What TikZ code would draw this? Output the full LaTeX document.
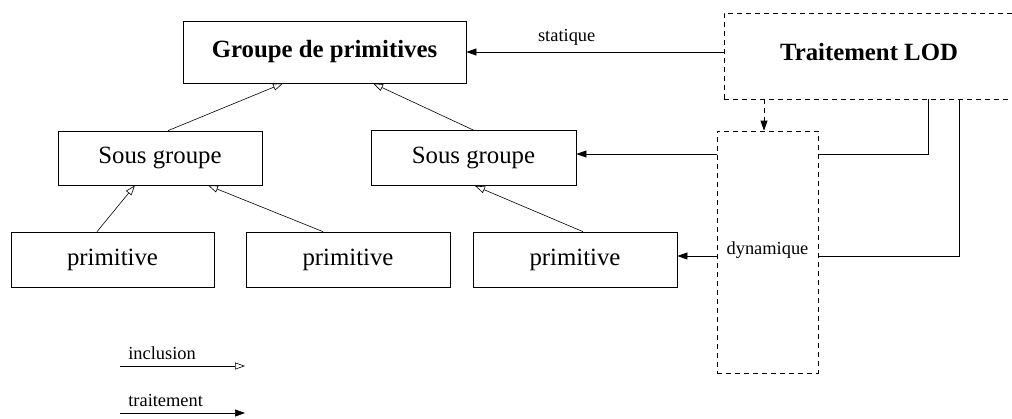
\documentclass[tikz,border=0pt]{standalone}
\usepackage{fontspec}
\setmainfont{Liberation Serif}
\usetikzlibrary{arrows.meta,calc}
\begin{document}
\begin{tikzpicture}[x=1pt,y=-1pt,line width=0.7pt,
  box/.style={draw,rectangle,inner sep=0pt,font=\fontsize{24.8}{26}\selectfont},
  dbox/.style={draw,rectangle,inner sep=0pt,dash pattern=on 5pt off 4pt},
  incl/.style={-{Triangle[open,length=10pt,width=7pt]},line width=0.6pt},
  treat/.style={-{Triangle[length=10pt,width=7pt]},line width=0.7pt},
  lbl/.style={font=\fontsize{18.4}{20}\selectfont,inner sep=0pt}]
\useasboundingbox (0,0) rectangle (1012,418);
\clip (0,0) rectangle (1012,418);
% nodes
\node[box,minimum width=283pt,minimum height=62pt,font=\fontsize{24.8}{26}\selectfont\bfseries] (g) at (324.5,52) {Groupe de primitives};
\node[dbox,minimum width=290pt,minimum height=86pt] (lod) at (869,56) {};
\node[font=\fontsize{24.8}{26}\selectfont\bfseries,inner sep=0pt] (lodt) at (869,52) {Traitement LOD};
\node[box,minimum width=204pt,minimum height=54pt] (sg1) at (160,158) {Sous groupe};
\node[box,minimum width=205pt,minimum height=55pt] (sg2) at (473.5,158) {Sous groupe};
\node[box,minimum width=203pt,minimum height=55pt] (p1) at (112.5,259.5) {primitive};
\node[box,minimum width=204pt,minimum height=55pt] (p2) at (348,259.5) {primitive};
\node[box,minimum width=204pt,minimum height=55pt] (p3) at (575,259.5) {primitive};
\node[dbox,minimum width=101pt,minimum height=242pt] (dyn) at (767.5,252) {};
\node[lbl] (dynt) at (767.5,250) {dynamique};
% inclusion arrows
\draw[incl] ([xshift=8pt]sg1.north) -- ([xshift=-41.5pt]g.south);
\draw[incl] (sg2.north) -- ([xshift=48.5pt]g.south);
\draw[incl] ([xshift=-15.5pt]p1.north) -- ([xshift=-25pt]sg1.south);
\draw[incl] ([xshift=-25pt]p2.north) -- ([xshift=48pt]sg1.south);
\draw[incl] ([xshift=8pt]p3.north) -- ([xshift=1.5pt]sg2.south);
% treatment arrows
\draw[treat] ([yshift=4pt]lod.west) -- node[lbl,above=6pt,pos=0.61] (st) {statique} (g.east);
\draw[treat,dash pattern=on 5pt off 4pt] ([xshift=-105pt]lod.south) -- ([xshift=-3.5pt]dyn.north);
\draw[treat] ([yshift=4pt]sg2.east -| dyn.west) -- ([yshift=4pt]sg2.east);
\draw[treat] ([yshift=3.5pt]p3.east -| dyn.west) -- ([yshift=3.5pt]p3.east);
\draw ([xshift=59pt]lod.south) |- ([yshift=4pt]sg2.east -| dyn.east);
\draw ([xshift=90pt]lod.south) |- ([yshift=3.5pt]p3.east -| dyn.east);
% legend
\coordinate (i1) at (120,366);
\coordinate (i2) at (245,366);
\coordinate (t1) at (120,413);
\coordinate (t2) at (245,413);
\draw[incl] (i1) -- (i2);
\draw[treat] (t1) -- (t2);
\node[lbl,anchor=base west] (il) at (128,359) {inclusion};
\node[lbl,anchor=base west] (tl) at (128,406) {traitement};
\end{tikzpicture}
\end{document}
